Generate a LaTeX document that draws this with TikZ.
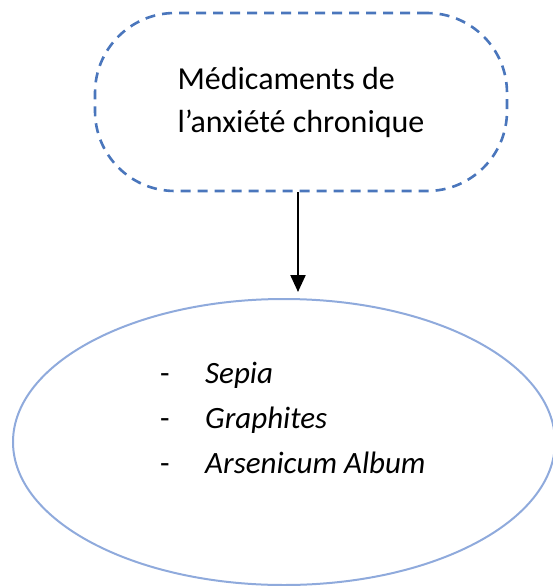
\documentclass[tikz,border=0pt]{standalone}
\usepackage{fontspec}
\setmainfont{Carlito}
\usetikzlibrary{arrows.meta,shapes.geometric}
\definecolor{boxblue}{HTML}{4A76BC}
\definecolor{ellblue}{HTML}{8FAADC}
\begin{document}
\begin{tikzpicture}[x=1pt, y=-1pt,
        medbox/.style={draw=boxblue, line width=2.6pt, dash pattern=on 10pt off 7pt,
            rounded corners=80pt, minimum width=412pt, minimum height=178pt,
            align=left, font=\fontsize{32}{43}\selectfont},
        remball/.style={draw=ellblue, line width=2pt, ellipse,
            minimum width=542pt, minimum height=286pt, inner sep=0pt}]
    \useasboundingbox (0, 0) rectangle (553, 586);
    \node[medbox] (med) at (301, 102) {Médicaments de\\l’anxiété chronique};
    \node[remball] (ell) at (284, 442) {};
    \node[anchor=west, inner sep=0pt, align=left, font=\fontsize{31}{45}\selectfont] (remedies) at (160, 418)
        {\makebox[45pt][l]{-}\textit{Sepia}\\
         \makebox[45pt][l]{-}\textit{Graphites}\\
         \makebox[45pt][l]{-}\textit{Arsenicum Album}};
    \coordinate (tip) at (298, 292);
    \draw[line width=2.2pt, -{Triangle[length=17pt, width=15pt]}] (med.south -| tip) -- (tip);
\end{tikzpicture}
\end{document}
